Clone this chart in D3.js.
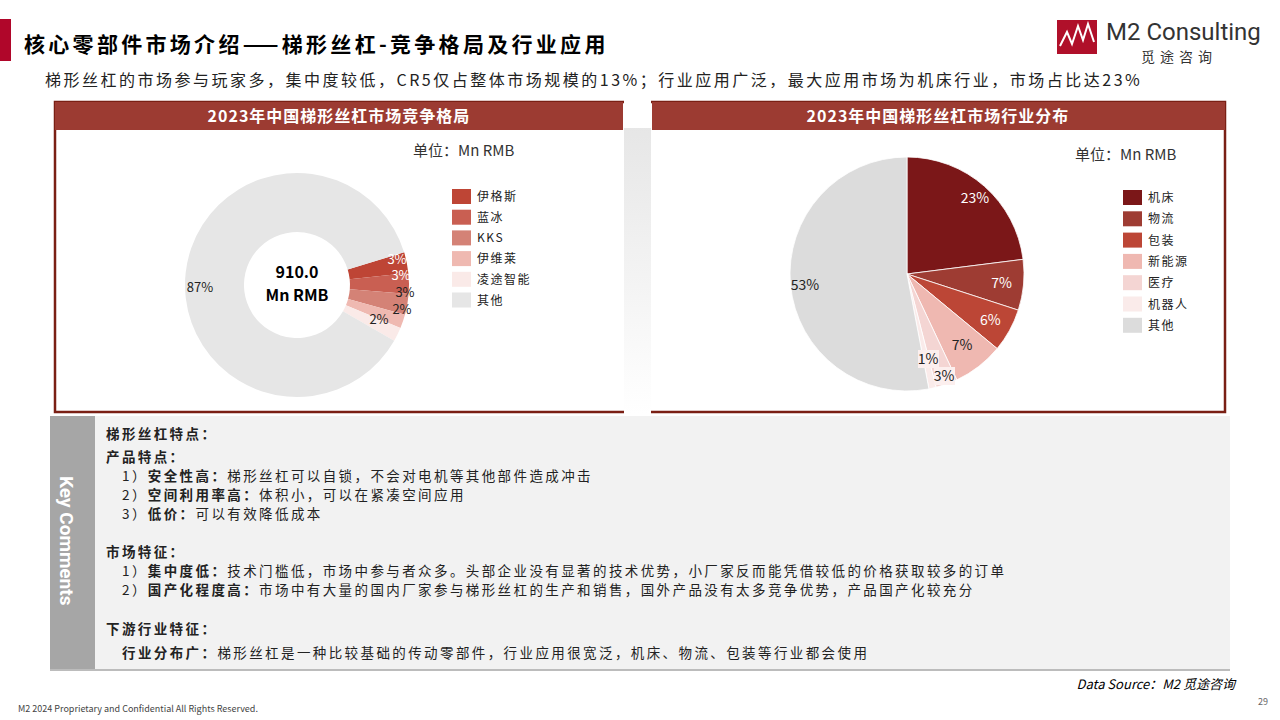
<!DOCTYPE html>
<html><head><meta charset="utf-8">
<script src="https://cdn.jsdelivr.net/npm/d3@7"></script>
<style>
body{margin:0;background:#fff;}
svg{display:block;font-family:"Noto Sans CJK SC","Noto Sans",sans-serif;}
</style></head>
<body><svg id="page" width="1280" height="720"></svg>
<script>
// donut: competition
const compNames = ['伊格斯','蓝冰','KKS','伊维莱','凌途智能','其他'];
const compShares = [3,3,3,2,2,87];
const compColors = ['#be4535','#c95f52','#d48276','#efb9b1','#faeae8','#e6e6e6'];
// pie: industry
const indNames = ['机床','物流','包装','新能源','医疗','机器人','其他'];
const indShares = [23,7,6,7,3,1,53];
const indColors = ['#7b1718','#9e3c33','#bc4636','#efb8b1','#f4d5d3','#faebea','#dcdcdc'];

const svg = d3.select('#page');
const dark = '#7a1f14', band = '#9c3b32';

// title
svg.append('rect').attr('x',0).attr('y',19).attr('width',11).attr('height',42).attr('fill','#b0062a');
svg.append('text').attr('x',24).attr('y',52).attr('font-size',21).attr('font-weight','bold').attr('letter-spacing',3.3).text('核心零部件市场介绍——梯形丝杠-竞争格局及行业应用');
svg.append('text').attr('x',45).attr('y',86).attr('font-size',16).attr('fill','#222').attr('letter-spacing',2.5)
  .text('梯形丝杠的市场参与玩家多，集中度较低，CR5仅占整体市场规模的13%；行业应用广泛，最大应用市场为机床行业，市场占比达23%');

// logo
svg.append('rect').attr('x',1057).attr('y',20).attr('width',40).attr('height',34).attr('fill','#b0102a');
svg.append('path').attr('d','M1060,46 L1067,32 L1072,44 L1078,26 L1083,40 L1088,24 L1094,42').attr('fill','none').attr('stroke','#fff').attr('stroke-width',2);
svg.append('text').attr('x',1106).attr('y',40).attr('font-size',24).attr('font-family','Roboto, sans-serif').attr('fill','#333').text('M2 Consulting');
svg.append('text').attr('x',1141).attr('y',62).attr('font-size',14).attr('fill','#333').attr('letter-spacing',5).text('觅途咨询');

// panels
svg.append('rect').attr('x',55).attr('y',102).attr('width',1170).attr('height',310).attr('fill','none').attr('stroke',dark).attr('stroke-width',2.5);
svg.append('rect').attr('x',55).attr('y',102).attr('width',568).attr('height',28).attr('fill',band);
svg.append('rect').attr('x',652).attr('y',102).attr('width',573).attr('height',28).attr('fill',band);
const grad = svg.append('defs').append('linearGradient').attr('id','g').attr('x1',0).attr('x2',0).attr('y1',0).attr('y2',1);
grad.append('stop').attr('offset',0).attr('stop-color','#e4e4e4');
grad.append('stop').attr('offset',1).attr('stop-color','#fff');
svg.append('rect').attr('x',624).attr('y',100).attr('width',27).attr('height',314).attr('fill','url(#g)');
svg.append('rect').attr('x',624).attr('y',100).attr('width',27).attr('height',28).attr('fill','#fff');
svg.append('text').attr('x',339).attr('y',122).attr('text-anchor','middle').attr('fill','#fff').attr('font-size',16).attr('font-weight','bold').attr('letter-spacing',1).text('2023年中国梯形丝杠市场竞争格局');
svg.append('text').attr('x',938).attr('y',122).attr('text-anchor','middle').attr('fill','#fff').attr('font-size',16).attr('font-weight','bold').attr('letter-spacing',1).text('2023年中国梯形丝杠市场行业分布');
svg.append('text').attr('x',413).attr('y',156).attr('font-size',15).attr('fill','#333').text('单位：Mn RMB');
svg.append('text').attr('x',1075).attr('y',160).attr('font-size',15).attr('fill','#333').text('单位：Mn RMB');

// donut
const dg = svg.append('g').attr('transform','translate(297,285)');
const s0 = 73*Math.PI/180;
const dpie = d3.pie().sort(null).startAngle(s0).endAngle(s0+2*Math.PI)(compShares);
const darc = d3.arc().innerRadius(53).outerRadius(112);
dg.selectAll('path').data(dpie).join('path').attr('d',darc).attr('fill',(d,i)=>compColors[i]);
const dpos = [[100,-21],[104,-5],[108,12],[105,29],[82,39],[-97,7]];
dg.selectAll('text.l').data(dpie).join('text').attr('font-size',13).attr('text-anchor','middle')
  .attr('fill',(d,i)=>i<2?'#fff':'#222')
  .attr('x',(d,i)=>dpos[i][0]).attr('y',(d,i)=>dpos[i][1])
  .text(d=>d.data+'%');
dg.append('text').attr('y',-7).attr('text-anchor','middle').attr('font-size',16).attr('font-weight','bold').text('910.0');
dg.append('text').attr('y',16).attr('text-anchor','middle').attr('font-size',16).attr('font-weight','bold').text('Mn RMB');
const dl = svg.append('g').attr('transform','translate(452,189)');
compNames.forEach((n,i)=>{
  dl.append('rect').attr('y',i*20.7).attr('width',19).attr('height',15).attr('fill',compColors[i]);
  dl.append('text').attr('x',25).attr('y',i*20.7+12).attr('font-size',12).attr('letter-spacing',1.5).attr('fill','#222').text(n);
});

// pie
const pg = svg.append('g').attr('transform','translate(907,274)');
const ppie = d3.pie().sort(null)(indShares);
const parc = d3.arc().innerRadius(0).outerRadius(117);
pg.selectAll('path').data(ppie).join('path').attr('d',parc).attr('fill',(d,i)=>indColors[i]).attr('stroke','#fff').attr('stroke-width',0.8);
const pr=[88,95,95,90,118,118,100];
ppie.forEach((d,i)=>{
  const a=(d.startAngle+d.endAngle)/2;
  let x=pr[i]*Math.sin(a), y=-pr[i]*Math.cos(a)+5;
  if(i===0){x=68;y=-71;}
  if(i===4){x=37;y=107;} if(i===5){x=21;y=90;} if(i===6){x=-102;y=16;}
  if(i===4||i===5) pg.append('rect').attr('x',x-10).attr('y',y-14).attr('width',21).attr('height',18).attr('fill','#fcefee');
  pg.append('text').attr('x',x).attr('y',y).attr('text-anchor','middle').attr('font-size',14)
    .attr('fill',i<3?'#fff':'#222').text(d.data+'%');
});
const pl = svg.append('g').attr('transform','translate(1123,190)');
indNames.forEach((n,i)=>{
  pl.append('rect').attr('y',i*21.3).attr('width',19).attr('height',15).attr('fill',indColors[i]);
  pl.append('text').attr('x',25).attr('y',i*21.3+12).attr('font-size',12).attr('letter-spacing',1.5).attr('fill','#222').text(n);
});

// key comments
svg.append('rect').attr('x',50).attr('y',416).attr('width',1180).attr('height',255).attr('fill','#f2f2f2');
svg.append('rect').attr('x',50).attr('y',416).attr('width',45).attr('height',255).attr('fill','#a6a6a6');
svg.append('rect').attr('x',50).attr('y',669).attr('width',1180).attr('height',2).attr('fill','#bcbcbc');
svg.append('text').attr('transform','translate(60,476) rotate(90)').attr('font-size',19).attr('font-weight','bold').attr('fill','#fff').attr('font-family','Roboto, sans-serif').text('Key Comments');
const lines = [
  [106,439,[['梯形丝杠特点：',1]]],
  [106,462,[['产品特点：',1]]],
  [122,481,[['1）',0],['安全性高：',1],['梯形丝杠可以自锁，不会对电机等其他部件造成冲击',0]]],
  [122,500,[['2）',0],['空间利用率高：',1],['体积小，可以在紧凑空间应用',0]]],
  [122,519,[['3）',0],['低价：',1],['可以有效降低成本',0]]],
  [106,557,[['市场特征：',1]]],
  [122,576,[['1）',0],['集中度低：',1],['技术门槛低，市场中参与者众多。头部企业没有显著的技术优势，小厂家反而能凭借较低的价格获取较多的订单',0]]],
  [122,595,[['2）',0],['国产化程度高：',1],['市场中有大量的国内厂家参与梯形丝杠的生产和销售，国外产品没有太多竞争优势，产品国产化较充分',0]]],
  [106,634,[['下游行业特征：',1]]],
  [122,658,[['行业分布广：',1],['梯形丝杠是一种比较基础的传动零部件，行业应用很宽泛，机床、物流、包装等行业都会使用',0]]]
];
lines.forEach(([x,y,parts])=>{
  const t=svg.append('text').attr('x',x).attr('y',y).attr('font-size',13.5).attr('letter-spacing',2.4).attr('fill','#222');
  parts.forEach(([s,b])=>t.append('tspan').attr('font-weight',b?'bold':'normal').text(s));
});

// footer
svg.append('text').attr('x',1235).attr('y',689).attr('text-anchor','end').attr('font-size',13).attr('font-style','italic').text('Data Source：M2 觅途咨询');
svg.append('text').attr('x',18).attr('y',712).attr('font-size',9).attr('fill','#444').text('M2  2024 Proprietary and Confidential All Rights Reserved.');
svg.append('text').attr('x',1268).attr('y',705).attr('text-anchor','end').attr('font-size',9).attr('fill','#666').text('29');
</script></body></html>
